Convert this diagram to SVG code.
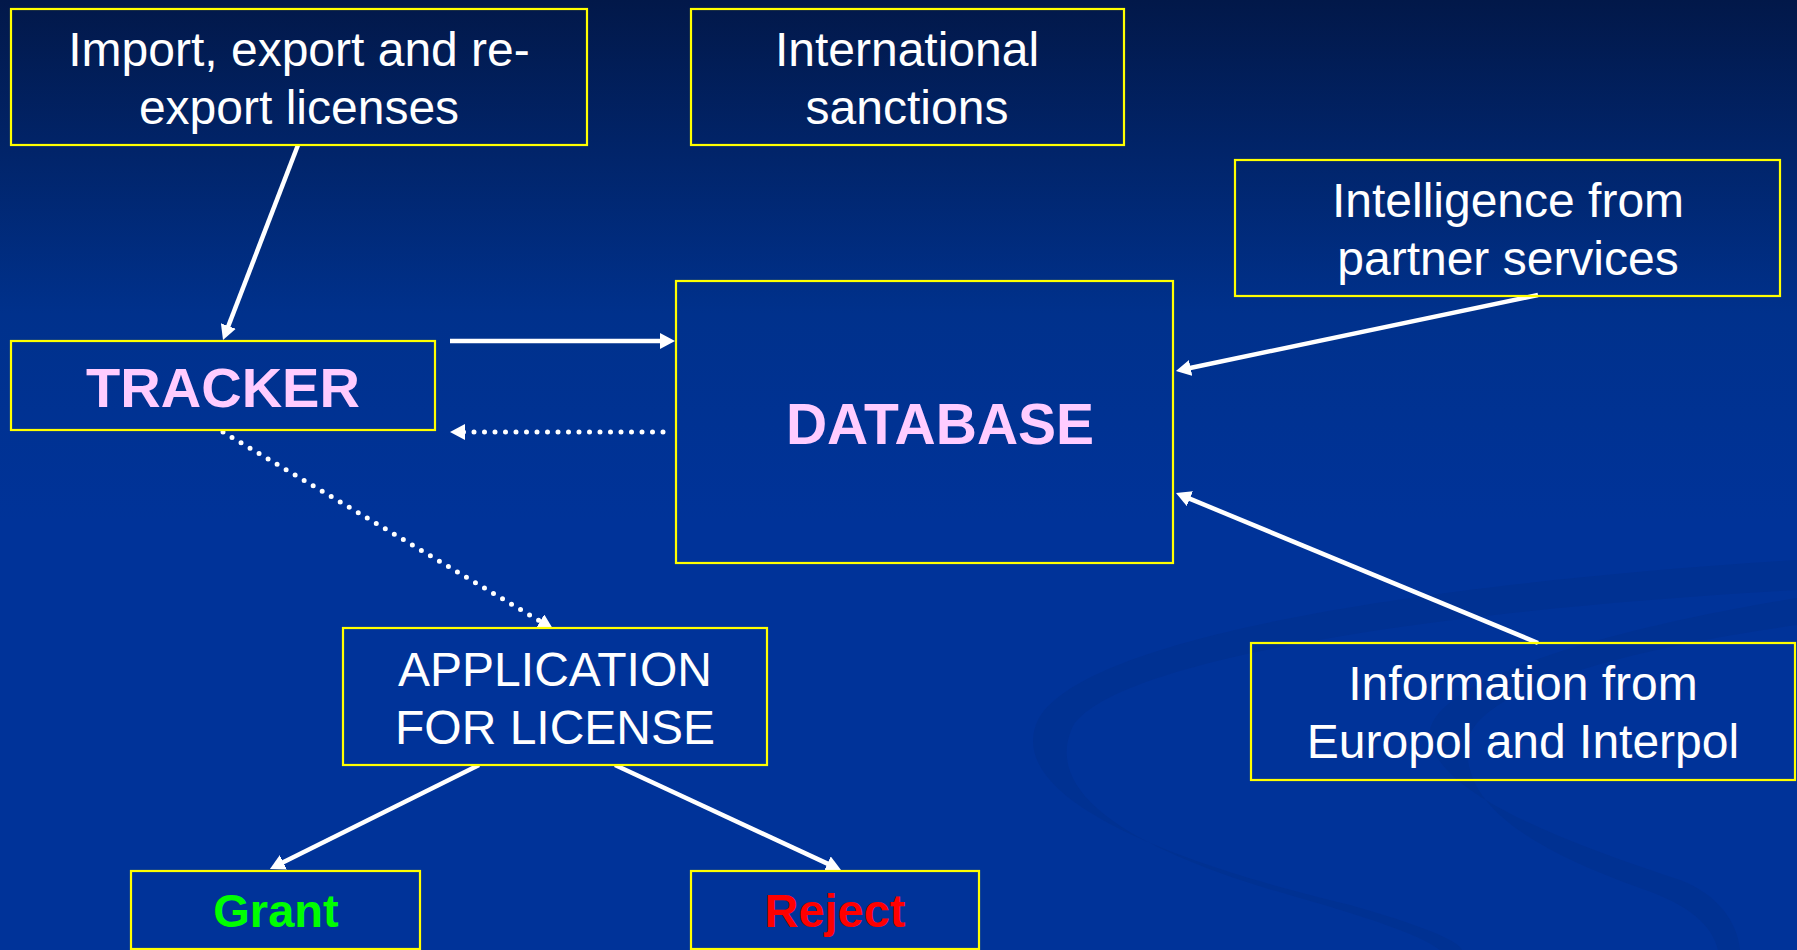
<svg xmlns="http://www.w3.org/2000/svg" width="1797" height="950" viewBox="0 0 1797 950">
<defs>
<linearGradient id="bg" x1="0" y1="0" x2="0" y2="950" gradientUnits="userSpaceOnUse">
<stop offset="0" stop-color="#021849"/>
<stop offset="0.33" stop-color="#00318c"/>
<stop offset="0.55" stop-color="#003399"/>
<stop offset="1" stop-color="#003399"/>
</linearGradient>
<marker id="ah" viewBox="0 0 15 16" refX="3" refY="8" markerWidth="15" markerHeight="16" markerUnits="userSpaceOnUse" orient="auto">
<path d="M0,0 L15,8 L0,16 Z" fill="#ffffff"/>
</marker>
<style>
.box{fill:none;stroke:#ffff00;stroke-width:2.2}
.txt{font-family:"Liberation Sans",Arial,sans-serif;font-size:48px;fill:#ffffff;text-anchor:middle}
.bold{font-family:"Liberation Sans",Arial,sans-serif;font-weight:bold;text-anchor:middle}
.solid{fill:none;stroke:#ffffff;stroke-width:4.5;marker-end:url(#ah)}
.dot{fill:none;stroke:#ffffff;stroke-width:5;stroke-dasharray:0 10.5;stroke-linecap:round;marker-end:url(#ah)}
.sw{fill:#00308e;opacity:0.7}
</style>
</defs>
<rect x="0" y="0" width="1797" height="950" fill="url(#bg)"/>
<g id="swoosh">
<path class="sw" d="M1797,560 C1400,585 1080,640 1038,720 C1005,790 1140,855 1350,905 C1420,925 1458,940 1462,950 L1440,950 C1420,935 1370,918 1300,898 C1120,848 1045,790 1072,728 C1105,665 1400,612 1797,590 Z"/>
<path class="sw" d="M1797,598 C1600,630 1440,680 1430,730 C1425,790 1560,840 1680,880 C1720,895 1738,925 1740,950 L1718,950 C1712,925 1690,905 1640,888 C1520,845 1460,800 1468,740 C1480,690 1620,650 1797,625 Z"/>
</g>
<g id="connectors">
<path class="solid" d="M298,145 L227.3,328.8"/>
<path class="solid" d="M450,341 L663,341"/>
<path class="dot" d="M663,432 L462,432"/>
<path class="dot" d="M223,432 L542.7,622.8"/>
<path class="solid" d="M1538,295 L1187.7,368.5"/>
<path class="solid" d="M1538,643 L1187.1,497.6"/>
<path class="solid" d="M479,765 L280.7,863.6"/>
<path class="solid" d="M615,765 L830.1,864.9"/>
</g>
<g id="import">
<rect class="box" x="11" y="9" width="576" height="136"/>
<text class="txt" x="299" y="66">Import, export and re-</text>
<text class="txt" x="299" y="124">export licenses</text>
</g>
<g id="sanctions">
<rect class="box" x="691" y="9" width="433" height="136"/>
<text class="txt" x="907" y="66">International</text>
<text class="txt" x="907" y="124">sanctions</text>
</g>
<g id="intelligence">
<rect class="box" x="1235" y="160" width="545" height="136"/>
<text class="txt" x="1508" y="217">Intelligence from</text>
<text class="txt" x="1508" y="275">partner services</text>
</g>
<g id="tracker">
<rect class="box" x="11" y="341" width="424" height="89"/>
<text class="bold" x="223" y="407" font-size="56" fill="#ffccff">TRACKER</text>
</g>
<g id="database">
<rect class="box" x="676" y="281" width="497" height="282"/>
<text class="bold" x="940" y="444" font-size="57" fill="#ffccff">DATABASE</text>
</g>
<g id="information">
<rect class="box" x="1251" y="643" width="544" height="137"/>
<text class="txt" x="1523" y="700">Information from</text>
<text class="txt" x="1523" y="758">Europol and Interpol</text>
</g>
<g id="application">
<rect class="box" x="343" y="628" width="424" height="137" style="fill:#003399"/>
<text class="txt" x="555" y="686">APPLICATION</text>
<text class="txt" x="555" y="744">FOR LICENSE</text>
</g>
<g id="grant">
<rect class="box" x="131" y="871" width="289" height="78"/>
<text class="bold" x="276" y="927" font-size="47" fill="#00ff00">Grant</text>
</g>
<g id="reject">
<rect class="box" x="691" y="871" width="288" height="78"/>
<text class="bold" x="835" y="927" font-size="47" fill="#ff0000">Reject</text>
</g>
</svg>
